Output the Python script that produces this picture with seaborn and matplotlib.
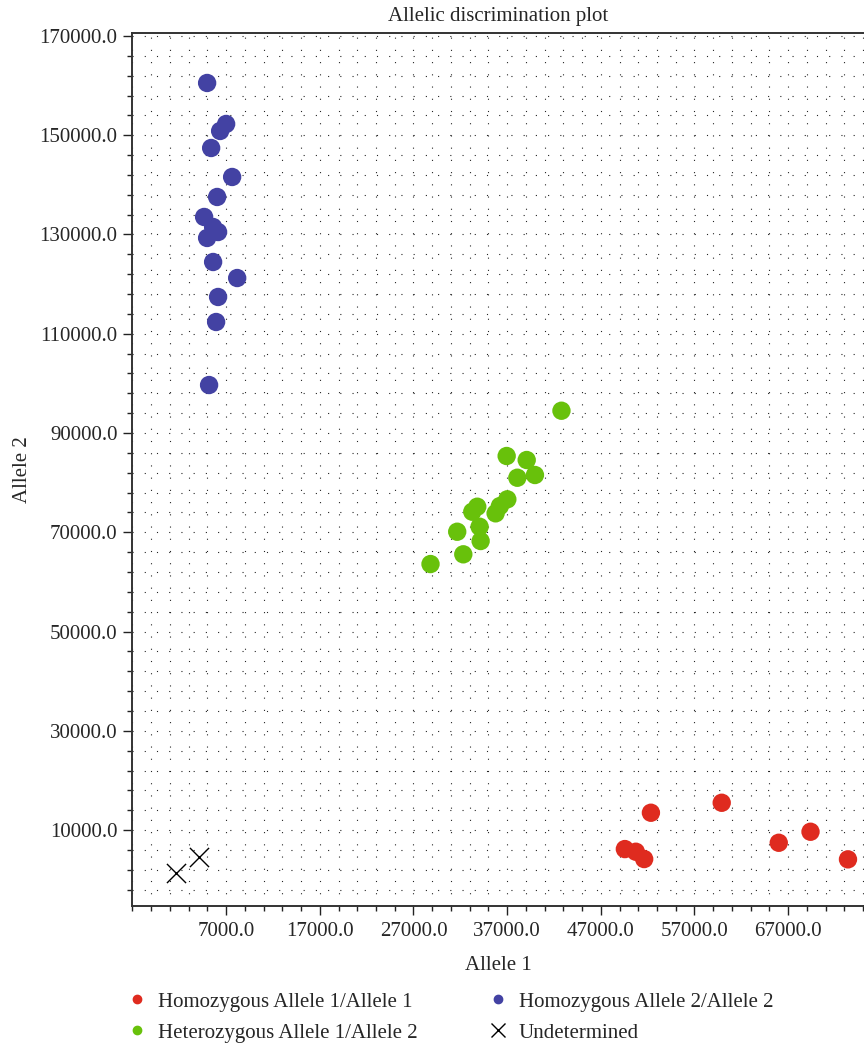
import numpy as np
import pandas as pd
import matplotlib
matplotlib.use('Agg')
import matplotlib.pyplot as plt
import seaborn as sns
from matplotlib.ticker import FixedLocator, MultipleLocator, FormatStrFormatter
from matplotlib.lines import Line2D

homo1_x = [49570, 50740, 51630, 52350, 59910, 66000, 69390, 73390]
homo1_y = [6170, 5630, 4160, 13490, 15500, 7440, 9660, 4100]

hetero_x = [28820, 31670, 32320, 33280, 33810, 34060, 34170, 35770,
            36230, 37020, 36950, 38090, 39090, 39970, 42800]
hetero_y = [63600, 70110, 65560, 74140, 75150, 71120, 68240, 73820,
            75290, 76640, 85370, 80990, 84560, 81540, 94490]

homo2_x = [4970, 7000, 6360, 5400, 7640, 6040, 4650, 5610,
           6140, 4970, 5610, 8180, 6140, 5930, 5180]
homo2_y = [160530, 152270, 150860, 147430, 141590, 137560, 133530, 131510,
           130500, 129300, 124460, 121230, 117410, 112370, 99670]

undet_x = [1650, 4110]
undet_y = [1400, 4500]

x_ticks = [7000, 17000, 27000, 37000, 47000, 57000, 67000]
y_ticks = [10000, 30000, 50000, 70000, 90000, 110000, 130000, 150000, 170000]

labels = ['Homozygous Allele 1/Allele 1', 'Heterozygous Allele 1/Allele 2',
          'Homozygous Allele 2/Allele 2', 'Undetermined']
colors = {labels[0]: '#df2b1f', labels[1]: '#68c10b', labels[2]: '#4342a3'}

df = pd.DataFrame({
    'Allele 1': homo1_x + hetero_x + homo2_x,
    'Allele 2': homo1_y + hetero_y + homo2_y,
    'call': [labels[0]] * len(homo1_x) + [labels[1]] * len(hetero_x) + [labels[2]] * len(homo2_x),
})
und = pd.DataFrame({'Allele 1': undet_x, 'Allele 2': undet_y})

sns.set_style('white')
plt.rcParams['font.family'] = ['Liberation Serif', 'DejaVu Serif']
plt.rcParams['font.size'] = 15

fig = plt.figure(figsize=(8.64, 10.49), dpi=100)
ax = fig.add_axes([132 / 864, 1 - 906 / 1049, 1 - 132 / 864, (906 - 33) / 1049])

sns.scatterplot(data=df, x='Allele 1', y='Allele 2', hue='call', palette=colors,
                s=175, edgecolor='none', legend=False, ax=ax, zorder=3)
sns.scatterplot(data=und, x='Allele 1', y='Allele 2', marker='x', color='black',
                s=190, linewidth=1.0, legend=False, ax=ax, zorder=3)

ax.set_xlim(-3050, 75100)
ax.set_ylim(-5300, 170600)
ax.xaxis.set_major_locator(FixedLocator(x_ticks))
ax.xaxis.set_minor_locator(MultipleLocator(2000, offset=1000))
ax.yaxis.set_major_locator(FixedLocator(y_ticks))
ax.yaxis.set_minor_locator(MultipleLocator(4000, offset=2000))
ax.xaxis.set_major_formatter(FormatStrFormatter('%.1f'))
ax.yaxis.set_major_formatter(FormatStrFormatter('%.1f'))

ax.grid(which='both', color='black', linewidth=0.8, linestyle=(0, (1, 10)), alpha=0.85)
ax.set_axisbelow(True)
ax.tick_params(which='major', direction='out', length=6.5, width=1.0, color='#222222',
               labelsize=15, pad=4, bottom=True, left=True)
ax.tick_params(which='minor', direction='out', length=3.5, width=1.0, color='#222222',
               bottom=True, left=True)
ax.tick_params(axis='x', which='major', pad=5)

for side in ['left', 'bottom', 'top']:
    ax.spines[side].set_color('#333333')
    ax.spines[side].set_linewidth(1.4)
ax.spines['right'].set_visible(False)

ax.set_title('Allelic discrimination plot', fontsize=15, pad=9)
ax.set_xlabel('Allele 1', fontsize=15, labelpad=11)
ax.set_ylabel('Allele 2', fontsize=15, labelpad=5)

handles = [
    Line2D([], [], marker='o', linestyle='none', color=colors[labels[0]], markersize=6),
    Line2D([], [], marker='o', linestyle='none', color=colors[labels[1]], markersize=6),
    Line2D([], [], marker='o', linestyle='none', color=colors[labels[2]], markersize=6),
    Line2D([], [], marker='x', linestyle='none', color='black', markersize=10, markeredgewidth=1.0),
]
fig.legend(handles, labels, loc='upper left', bbox_to_anchor=(127 / 864, 1 - 992 / 1049),
           ncol=2, frameon=False, fontsize=15, handlelength=1.0, handletextpad=0.5,
           columnspacing=3.35, labelspacing=0.55, borderpad=0, borderaxespad=0)

fig.savefig('out.png', dpi=100)
